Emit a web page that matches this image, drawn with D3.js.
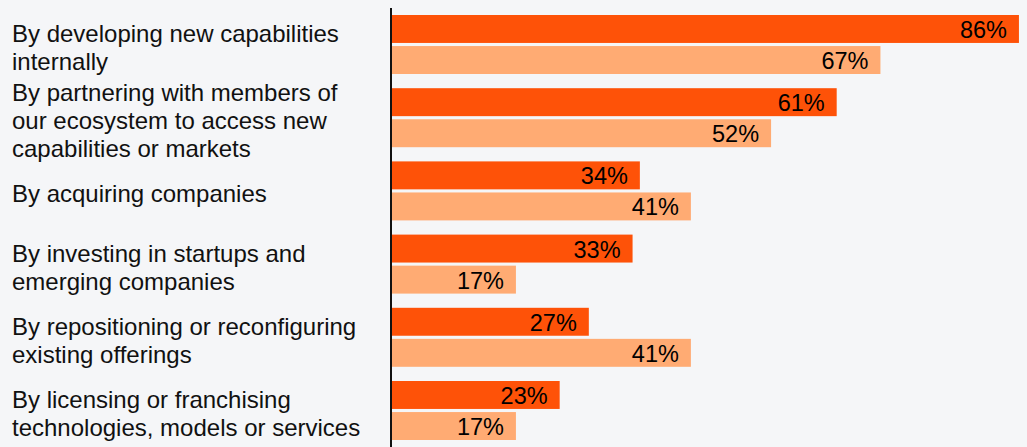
<!DOCTYPE html>
<html>
<head>
<meta charset="utf-8">
<script src="https://cdn.jsdelivr.net/npm/d3@7"></script>
<style>
  body { margin: 0; background: #f5f6f8; }
  svg { display: block; font-family: "Liberation Sans", Arial, sans-serif; }
</style>
</head>
<body>
<svg id="chart"></svg>
<script>
// categories, top to bottom
const categories = [
    'By developing new capabilities internally',
    'By partnering with members of our ecosystem to access new capabilities or markets',
    'By acquiring companies',
    'By investing in startups and emerging companies',
    'By repositioning or reconfiguring existing offerings',
    'By licensing or franchising technologies, models or services'
]

// tick labels as they wrap in the picture
const categoryLines = [
    ['By developing new capabilities', 'internally'],
    ['By partnering with members of', 'our ecosystem to access new', 'capabilities or markets'],
    ['By acquiring companies'],
    ['By investing in startups and', 'emerging companies'],
    ['By repositioning or reconfiguring', 'existing offerings'],
    ['By licensing or franchising', 'technologies, models or services']
]

const seriesNames = ['Series 1', 'Series 2']
const series1 = [86, 61, 34, 33, 27, 23]
const series2 = [67, 52, 41, 17, 41, 17]
const seriesColors = ['#fe5208', '#ffab73']

class BarChart {

    constructor(_config) {
        this.config = {
            parentElement: _config.parentElement,
            containerWidth: _config.containerWidth || 1027,
            containerHeight: _config.containerHeight || 447,
            margin: { top: 15, right: 5, bottom: 7, left: 392 }
        }

        this.data = categories.map((c, i) => ({
            category: c,
            lines: categoryLines[i],
            values: [
                { key: seriesNames[0], value: series1[i] },
                { key: seriesNames[1], value: series2[i] }
            ]
        }))

        this.initVis()
    }

    initVis() {
        let vis = this

        vis.width = vis.config.containerWidth - vis.config.margin.left - vis.config.margin.right
        vis.height = vis.config.containerHeight - vis.config.margin.top - vis.config.margin.bottom

        vis.svg = d3.select(vis.config.parentElement)
            .attr('width', vis.config.containerWidth)
            .attr('height', vis.config.containerHeight)

        vis.chart = vis.svg.append('g')
            .attr('transform', `translate(${vis.config.margin.left}, ${vis.config.margin.top})`)

        vis.xScale = d3.scaleLinear()
            .domain([0, 100])
            .range([0, 729])

        vis.yScale = d3.scaleBand()
            .domain(categories)
            .range([0, 425])
            .paddingInner(0.194)
            .paddingOuter(0)

        vis.subScale = d3.scaleBand()
            .domain(seriesNames)
            .range([0, vis.yScale.bandwidth()])
            .paddingInner(0.1)

        vis.color = d3.scaleOrdinal()
            .domain(seriesNames)
            .range(seriesColors)

        vis.updateVis()
    }

    updateVis() {
        let vis = this
        vis.renderVis()
    }

    renderVis() {
        let vis = this

        let groups = vis.chart.selectAll('.group')
            .data(vis.data)
            .join('g')
                .attr('class', 'group')
                .attr('transform', d => `translate(0, ${vis.yScale(d.category)})`)

        groups.selectAll('.bar')
            .data(d => d.values)
            .join('rect')
                .attr('class', 'bar')
                .attr('x', 0)
                .attr('y', d => vis.subScale(d.key))
                .attr('width', d => vis.xScale(d.value))
                .attr('height', vis.subScale.bandwidth())
                .attr('fill', d => vis.color(d.key))

        groups.selectAll('.value')
            .data(d => d.values)
            .join('text')
                .attr('class', 'value')
                .attr('x', d => vis.xScale(d.value) - 12)
                .attr('y', d => vis.subScale(d.key) + vis.subScale.bandwidth() / 2 + 9)
                .attr('text-anchor', 'end')
                .attr('font-size', '23.5px')
                .attr('fill', '#000')
                .text(d => d.value + '%')

        // category labels on the left, centred on the group
        let lineHeight = 28
        groups.selectAll('.label')
            .data(d => [d])
            .join('text')
                .attr('class', 'label')
                .attr('x', 12 - vis.config.margin.left)
                .attr('font-size', '24px')
                .attr('fill', '#111')
                .each(function(d) {
                    let n = d.lines.length
                    let first = vis.yScale.bandwidth() / 2 - (n - 1) * lineHeight / 2 + 11.5
                    d3.select(this).selectAll('tspan')
                        .data(d.lines)
                        .join('tspan')
                            .attr('x', 12 - vis.config.margin.left)
                            .attr('y', (l, i) => first + i * lineHeight)
                            .text(l => l)
                })

        // vertical axis line
        vis.chart.append('line')
            .attr('x1', -1)
            .attr('x2', -1)
            .attr('y1', -7)
            .attr('y2', vis.height + vis.config.margin.bottom)
            .attr('stroke', '#111')
            .attr('stroke-width', 2)
    }
}

new BarChart({ parentElement: '#chart' })
</script>
</body>
</html>
